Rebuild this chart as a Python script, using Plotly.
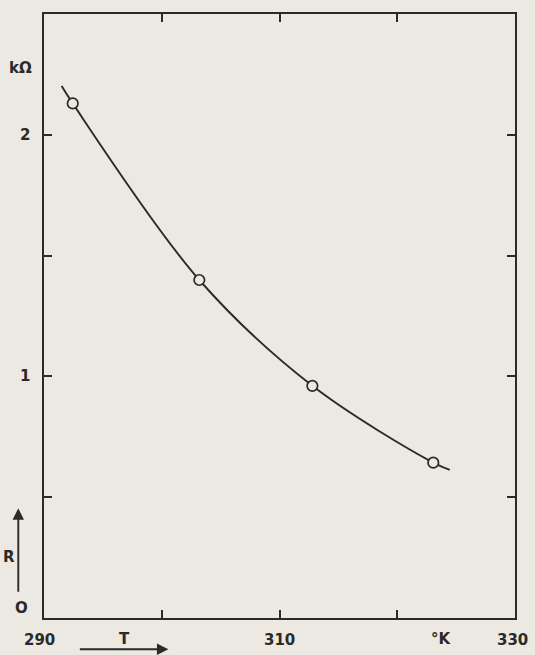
import plotly.graph_objects as go

# Measured thermistor resistance versus temperature
temperature_K = [292.44, 303.19, 312.79, 323.06]
resistance_kohm = [2.130, 1.399, 0.961, 0.643]

# Ends of the hand-drawn curve that runs through the measurements
curve_start = (291.50, 2.202)
curve_end = (324.46, 0.613)

# Axis labelling (positions in paper fractions of the plot frame)
x_label_pos = [-0.0085, 0.499, 0.995]
x_label_text = ["290", "310", "330"]
y_label_vals = [2, 1, 0.041]
y_label_text = ["2", "1", "O"]
x_tick_vals = [300, 310, 320]
y_tick_vals = [0.5, 1, 1.5, 2]

INK = "#2b2a28"
PAPER = "#ebe9e1"
FONT = dict(family="DejaVu Sans", size=15, color=INK, weight="bold")

curve_T = [curve_start[0]] + temperature_K + [curve_end[0]]
curve_R = [curve_start[1]] + resistance_kohm + [curve_end[1]]

fig = go.Figure()
fig.add_trace(go.Scatter(
    x=curve_T, y=curve_R, mode="lines",
    line=dict(color=INK, width=1.9, shape="spline", smoothing=1.0),
    hoverinfo="skip", showlegend=False,
))
fig.add_trace(go.Scatter(
    x=temperature_K, y=resistance_kohm, mode="markers",
    marker=dict(symbol="circle", size=10.5, color=PAPER,
                line=dict(color=INK, width=1.7)),
    showlegend=False,
))

annotations = []
for p, t in zip(x_label_pos, x_label_text):
    annotations.append(dict(x=p, y=-0.036, xref="paper", yref="paper", text=t,
                            showarrow=False, font=FONT,
                            xanchor="center", yanchor="middle"))
for v, t, px in zip(y_label_vals, y_label_text, [-0.040, -0.041, -0.047]):
    annotations.append(dict(x=px, y=v, xref="paper", yref="y", text=t,
                            showarrow=False, font=FONT,
                            xanchor="center", yanchor="middle"))
annotations += [
    dict(x=-0.0495, y=2.275, xref="paper", yref="y", text="kΩ",
         showarrow=False, font=FONT, xanchor="center", yanchor="middle"),
    dict(x=0.844, y=-0.034, xref="paper", yref="paper", text="°K",
         showarrow=False, font=FONT, xanchor="center", yanchor="middle"),
    dict(x=0.170, y=-0.035, xref="paper", yref="paper", text="T",
         showarrow=False, font=FONT, xanchor="center", yanchor="middle"),
    dict(x=-0.0743, y=0.254, xref="paper", yref="y", text="R",
         showarrow=False, font=FONT, xanchor="center", yanchor="middle"),
    # arrow for R (upwards)
    dict(x=-0.0546, y=0.1816, xref="paper", yref="paper", text="",
         showarrow=True, ax=0, ay=85, arrowhead=2, arrowsize=1.2,
         arrowwidth=1.9, arrowcolor=INK),
    # arrow for T (rightwards)
    dict(x=0.264, y=-0.0518, xref="paper", yref="paper", text="",
         showarrow=True, ax=-90, ay=0, arrowhead=2, arrowsize=1.2,
         arrowwidth=1.9, arrowcolor=INK),
]

axis_common = dict(showgrid=False, zeroline=False, showline=True,
                   linecolor=INK, linewidth=2, mirror="ticks",
                   ticks="inside", ticklen=8, tickwidth=1.7, tickcolor=INK,
                   showticklabels=False, fixedrange=True)

fig.update_layout(
    width=535, height=655,
    margin=dict(l=44, r=20, t=14, b=37),
    paper_bgcolor=PAPER, plot_bgcolor=PAPER,
    xaxis=dict(range=[290, 330], tickvals=x_tick_vals, **axis_common),
    yaxis=dict(range=[0, 2.5], tickvals=y_tick_vals, **axis_common),
    annotations=annotations,
    showlegend=False,
)

fig.write_html("out.html")
